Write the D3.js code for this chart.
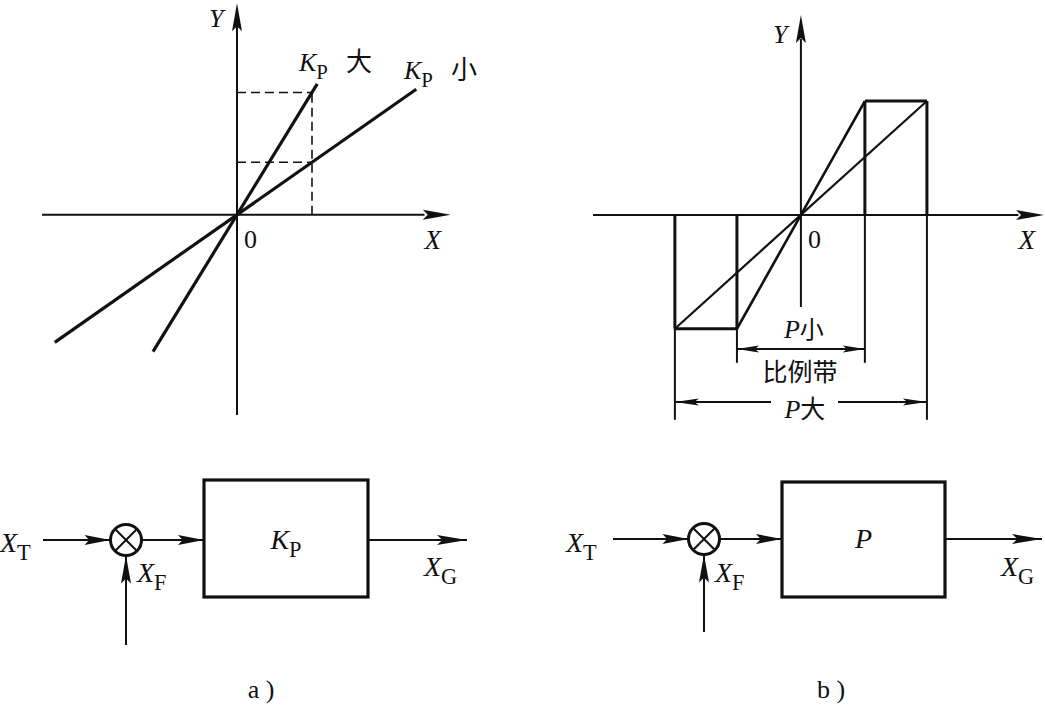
<!DOCTYPE html>
<html><head><meta charset="utf-8">
<script src="https://cdn.jsdelivr.net/npm/d3@7"></script>
<style>
html,body{margin:0;padding:0;background:#fff;}
svg{display:block;}
.serif{font-family:"Liberation Serif","DejaVu Serif",serif;}
.cjk{font-family:"Noto Sans CJK SC","Noto Sans CJK JP",sans-serif;}
</style></head>
<body>
<svg id="chart" width="1045" height="713"></svg>
<script>
// ---------- data ----------
// panel a: proportional gains
const kpLabels = ["大", "小"];
const kpGains = [1.63, 0.70];
const kpXStart = [-1.12, -2.43];
const kpXEnd = [1.07, 2.39];
const refInput = 1;            // dashed reference input
// panel b: proportional bands
const bandLabels = ["小", "大"];
const bandHalfWidths = [1, 1.97];
const outputLimit = 1.78;
const bandExtDepth = [-2.31, -3.2];
// block diagrams
const blockNames = ["K", "P"];
const captions = ["a )", "b )"];

const svg = d3.select("#chart");
const INK = "#111";

function arrowHead(g, x, y, angle, len, hw) {
  const a = angle * Math.PI / 180;
  const pts = [[0,0],[-len,hw],[-len*0.82,0],[-len,-hw]].map(([px,py]) =>
    [x + px*Math.cos(a) - py*Math.sin(a), y + px*Math.sin(a) + py*Math.cos(a)]);
  g.append("path").attr("d", d3.line()(pts) + "Z").attr("fill", INK);
}
function line(g, x1, y1, x2, y2, w, dash) {
  const l = g.append("line").attr("x1",x1).attr("y1",y1).attr("x2",x2).attr("y2",y2)
    .attr("stroke", INK).attr("stroke-width", w).attr("stroke-linecap","butt");
  if (dash) l.attr("stroke-dasharray", dash);
  return l;
}
function italic(g, x, y, txt, size, anchor) {
  return g.append("text").attr("class","serif").attr("x",x).attr("y",y)
    .attr("font-size",size).attr("font-style","italic").attr("text-anchor",anchor||"start")
    .attr("fill",INK).text(txt);
}
function subText(g, x, y, main, sub, size, anchor) {
  const t = g.append("text").attr("class","serif").attr("x",x).attr("y",y)
    .attr("font-size",size).attr("text-anchor",anchor||"start").attr("fill",INK);
  t.append("tspan").attr("font-style","italic").text(main);
  t.append("tspan").attr("font-size",size*0.8).attr("dy",size*0.3).text(sub);
  return t;
}

// ---------- panel a ----------
const gA = svg.append("g");
const xA = d3.scaleLinear().domain([-2.6, 2.85]).range([42, 450.75]);
const yA = d3.scaleLinear().domain([-2.67, 2.85]).range([415, 1]);
line(gA, xA(-2.6), yA(0), xA(2.5), yA(0), 2);
arrowHead(gA, xA(2.85), yA(0), 0, 28, 5);
line(gA, xA(0), yA(-2.67), xA(0), yA(2.6), 2);
arrowHead(gA, xA(0), yA(2.82), -90, 28, 5);
line(gA, xA(refInput), yA(0), xA(refInput), yA(kpGains[0]*refInput), 1.6, "9,5");
kpGains.forEach(k => line(gA, xA(0), yA(k*refInput), xA(refInput), yA(k*refInput), 1.6, "9,5"));
kpGains.forEach((k,i) => {
  gA.append("path").attr("d", d3.line().x(d=>xA(d)).y(d=>yA(k*d))([kpXStart[i], kpXEnd[i]]))
    .attr("stroke", INK).attr("stroke-width", 3.2).attr("fill","none");
});
italic(gA, xA(0)-28, 27, "Y", 26);
gA.append("text").attr("class","serif").attr("x", xA(0)+7).attr("y", yA(0)+33).attr("font-size",26).attr("fill",INK).text("0");
italic(gA, xA(2.5), yA(0)+34, "X", 27);
[[299, 71], [404, 79]].forEach(([x,y],i) => {
  subText(gA, x, y, "K", "P", 26);
  gA.append("text").attr("class","cjk").attr("x", x + 47).attr("y", y).attr("font-size",26).attr("fill",INK).text(kpLabels[i]);
});

// ---------- panel b ----------
const gB = svg.append("g");
const xB = d3.scaleLinear().domain([-3.25, 3.8]).range([593, 1044]);
const yB = d3.scaleLinear().domain([-1.44, 3.125]).range([307, 15]);
const yB2 = d3.scaleLinear().domain([0, -1]).range([215, 279]); // annotations below axis
line(gB, xB(-3.25), yB(0), xB(3.4), yB(0), 2);
arrowHead(gB, xB(3.8), yB(0), 0, 28, 5);
line(gB, xB(0), yB(-1.44), xB(0), yB(2.75), 2);
arrowHead(gB, xB(0), yB(3.125), -90, 28, 5);
bandHalfWidths.forEach((w,i) => {
  line(gB, xB(w), yB(0), xB(w), yB(outputLimit), 3);
  line(gB, xB(-w), yB(0), xB(-w), yB(-outputLimit), 3);
  line(gB, xB(w), yB(0), xB(w), yB2(bandExtDepth[i]), 2);
  line(gB, xB(-w), yB(-outputLimit), xB(-w), yB2(bandExtDepth[i]), 2);
  gB.append("path").attr("d", d3.line().x(d=>xB(d)).y(d=>yB(d*outputLimit/w))([-w, w]))
    .attr("stroke", INK).attr("stroke-width", i === 0 ? 2.6 : 2.2).attr("fill","none");
});
line(gB, xB(bandHalfWidths[0]), yB(outputLimit), xB(bandHalfWidths[1]), yB(outputLimit), 3);
line(gB, xB(-bandHalfWidths[1]), yB(-outputLimit), xB(-bandHalfWidths[0]), yB(-outputLimit), 3);
italic(gB, xB(0)-28, 43, "Y", 26);
gB.append("text").attr("class","serif").attr("x", xB(0)+7).attr("y", yB(0)+33).attr("font-size",26).attr("fill",INK).text("0");
italic(gB, xB(3.4), yB(0)+34, "X", 27);
const dimY = [349, 402];
{
  const w = bandHalfWidths[0], y = dimY[0];
  line(gB, xB(-w), y, xB(w), y, 2);
  arrowHead(gB, xB(-w), y, 180, 22, 3.5);
  arrowHead(gB, xB(w), y, 0, 22, 3.5);
  const t = gB.append("text").attr("x", xB(0)+3).attr("y", 338).attr("text-anchor","middle").attr("fill",INK);
  t.append("tspan").attr("class","serif").attr("font-style","italic").attr("font-size",26).text("P");
  t.append("tspan").attr("class","cjk").attr("font-size",24).text(bandLabels[0]);
  gB.append("text").attr("class","cjk").attr("x", xB(0)-1).attr("y", 381).attr("text-anchor","middle")
    .attr("font-size",25).attr("fill",INK).text("比例带");
}
{
  const w = bandHalfWidths[1], y = dimY[1];
  line(gB, xB(-w), y, 771, y, 2);
  line(gB, 838, y, xB(w), y, 2);
  arrowHead(gB, xB(-w), y, 180, 24, 3.5);
  arrowHead(gB, xB(w), y, 0, 24, 3.5);
  const t = gB.append("text").attr("x", xB(0)+4).attr("y", 418).attr("text-anchor","middle").attr("fill",INK);
  t.append("tspan").attr("class","serif").attr("font-style","italic").attr("font-size",26).text("P");
  t.append("tspan").attr("class","cjk").attr("font-size",25).text(bandLabels[1]);
}

// ---------- block diagrams ----------
const blocks = [
  {y:540, xtX:0, inStart:43, cx:126, boxL:204, boxR:368, boxT:480, boxB:597, outEnd:467, xgX:424, fbBottom:645, capX:261},
  {y:539, xtX:566, inStart:613, cx:704, boxL:782, boxR:945, boxT:482, boxB:597, outEnd:1042, xgX:1001, fbBottom:632, capX:831}
];
blocks.forEach((b,i) => {
  const g = svg.append("g");
  const r = 15.5;
  subText(g, b.xtX, 552, "X", "T", 28);
  line(g, b.inStart, b.y, b.cx - r, b.y, 2);
  arrowHead(g, b.cx - r, b.y, 0, 26, 5);
  g.append("circle").attr("cx", b.cx).attr("cy", b.y).attr("r", r).attr("fill","none").attr("stroke",INK).attr("stroke-width",3);
  const d = r*0.707;
  line(g, b.cx-d, b.y-d, b.cx+d, b.y+d, 2);
  line(g, b.cx-d, b.y+d, b.cx+d, b.y-d, 2);
  line(g, b.cx + r, b.y, b.boxL, b.y, 2);
  arrowHead(g, b.boxL, b.y, 0, 26, 5);
  g.append("rect").attr("x", b.boxL).attr("y", b.boxT).attr("width", b.boxR-b.boxL).attr("height", b.boxB-b.boxT)
    .attr("fill","none").attr("stroke",INK).attr("stroke-width",3.2);
  line(g, b.boxR, b.y, b.outEnd, b.y, 2);
  arrowHead(g, b.outEnd, b.y, 0, 30, 5);
  line(g, b.cx, b.fbBottom, b.cx, b.y + r, 2);
  arrowHead(g, b.cx, b.y + r, -90, 28, 5);
  subText(g, b.cx + 11, 582, "X", "F", 28);
  subText(g, b.xgX, 576, "X", "G", 28);
  const mid = (b.boxL + b.boxR)/2;
  if (i === 0) subText(g, mid, 549, blockNames[i], "P", 28, "middle");
  else italic(g, mid, 548, blockNames[i], 28, "middle");
  g.append("text").attr("class","serif").attr("x", b.capX).attr("y", 698).attr("text-anchor","middle")
    .attr("font-size",26).attr("fill",INK).text(captions[i]);
});
</script>
</body></html>
